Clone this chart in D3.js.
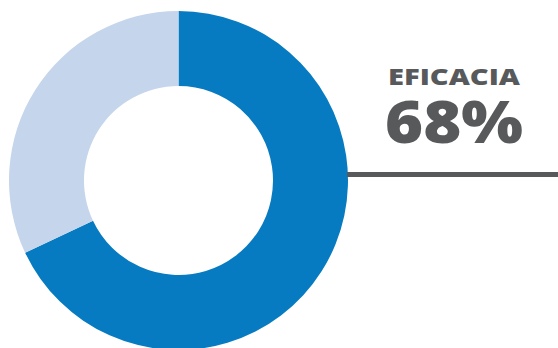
<!DOCTYPE html>
<html>
<head>
<meta charset="utf-8">
<script src="https://cdn.jsdelivr.net/npm/d3@7"></script>
<style>
  body { margin: 0; background: #fff; }
  svg { display: block; }
</style>
</head>
<body>
<svg id="chart" width="558" height="348"></svg>
<script>
// Data
const categories = ['Eficacia', 'Resto']
const values = [68, 32]
const colors = ['#077bc1', '#c5d5ec']
const label = 'EFICACIA'
const valueLabel = '68%'

const svg = d3.select('#chart')
const cx = 178.5
const cy = 180.5
const outerR = 169.5
const innerR = 94.5

const pie = d3.pie().sort(null).value((d) => d)
const arc = d3.arc().innerRadius(innerR).outerRadius(outerR)
const color = d3.scaleOrdinal().domain(categories).range(colors)

const g = svg.append('g').attr('transform', `translate(${cx},${cy})`)
g.selectAll('path')
  .data(pie(values))
  .enter()
  .append('path')
  .attr('d', arc)
  .attr('fill', (d, i) => color(categories[i]))

// Leader line
svg.append('line')
  .attr('x1', cx + outerR - 1)
  .attr('x2', 558)
  .attr('y1', 174.5)
  .attr('y2', 174.5)
  .attr('stroke', '#58595b')
  .attr('stroke-width', 5)

// Labels
svg.append('text')
  .attr('x', 388)
  .attr('y', 85)
  .attr('font-family', 'Open Sans, sans-serif')
  .attr('font-weight', 800)
  .attr('font-size', 22)
  .attr('fill', '#58595b')
  .attr('textLength', 132)
  .attr('lengthAdjust', 'spacingAndGlyphs')
  .text(label)

svg.append('text')
  .attr('x', 385)
  .attr('y', 143)
  .attr('font-family', 'Open Sans, sans-serif')
  .attr('font-weight', 800)
  .attr('font-size', 59)
  .attr('fill', '#58595b')
  .attr('textLength', 138)
  .attr('lengthAdjust', 'spacingAndGlyphs')
  .text(valueLabel)
</script>
</body>
</html>
